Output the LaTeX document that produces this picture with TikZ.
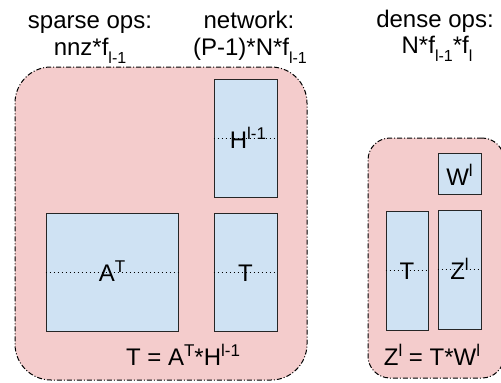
\documentclass[tikz,border=0pt]{standalone}
\usepackage{fontspec}
\setmainfont{Liberation Sans}
\newcommand\upidx[1]{\raisebox{9pt}{\fontsize{17}{17}\selectfont #1}}
\newcommand\lowidx[1]{\raisebox{-8pt}{\fontsize{16}{16}\selectfont #1}}
\definecolor{grouppink}{HTML}{F4CCCC}
\definecolor{matblue}{HTML}{CFE2F3}
\tikzset{
  group/.style={draw=black, line width=1pt, fill=grouppink,
    dash pattern=on 5pt off 2pt on 1pt off 2pt, rounded corners=#1,
    inner sep=0pt},
  group/.default=36pt,
  matbox/.style={draw=black!85, line width=1pt, fill=matblue, inner sep=0pt},
  midline/.style={line width=0.9pt, dash pattern=on 1pt off 3pt},
  txt/.style={font=\fontsize{24}{24}\selectfont, inner sep=0pt, anchor=base},
}
\begin{document}
\begin{tikzpicture}[x=1pt, y=-1pt]
\useasboundingbox (0,0) rectangle (501,383);

% headings
\node[txt] (hs1) at (90,28) {sparse ops:};
\node[txt] (hs2) at (90,55) {nnz*f\lowidx{l-1}};
\node[txt] (hn1) at (249,28) {network:};
\node[txt] (hn2) at (250,55) {(P-1)*N*f\lowidx{l-1}};
\node[txt] (hd1) at (435,27) {dense ops:};
\node[txt] (hd2) at (437,53) {N*f\lowidx{l-1}*f\lowidx{l}};

% group boxes
\node[group, minimum width=292pt, minimum height=313pt] (sparse) at (161,223.5) {};
\node[group=22pt, minimum width=136pt, minimum height=240pt] (dense) at (436,258) {};

% matrices of the sparse step
\node[matbox, minimum width=63pt, minimum height=118pt] (H) at (245.5,138) {};
\node[matbox, minimum width=132pt, minimum height=118pt] (At) at (112,272) {};
\node[matbox, minimum width=63pt, minimum height=118pt] (T1) at (245.5,272) {};

% matrices of the dense step
\node[matbox, minimum width=43pt, minimum height=41pt] (W) at (459.5,173.5) {};
\node[matbox, minimum width=42pt, minimum height=119pt] (T2) at (407,270.5) {};
\node[matbox, minimum width=43pt, minimum height=119pt] (Z) at (459.5,269.5) {};

% row separators
\foreach \m in {H,At,T1,T2,Z}
  \draw[midline] (\m.west) -- (\m.east);

% matrix names
\node[txt] (lH) at (248,148) {H\upidx{l-1}};
\node[txt] (lA) at (112,281) {A\upidx{T}};
\node[txt] (lT1) at (245.5,281) {T};
\node[txt] (lW) at (459.5,185) {W\upidx{l}};
\node[txt] (lT2) at (407,279) {T};
\node[txt] (lZ) at (459.5,279) {Z\upidx{l}};

% formulas
\node[txt] (fs) at (183,365) {T = A\upidx{T}*H\upidx{l-1}};
\node[txt] (fd) at (432,365) {Z\upidx{l} = T*W\upidx{l}};
\end{tikzpicture}
\end{document}
